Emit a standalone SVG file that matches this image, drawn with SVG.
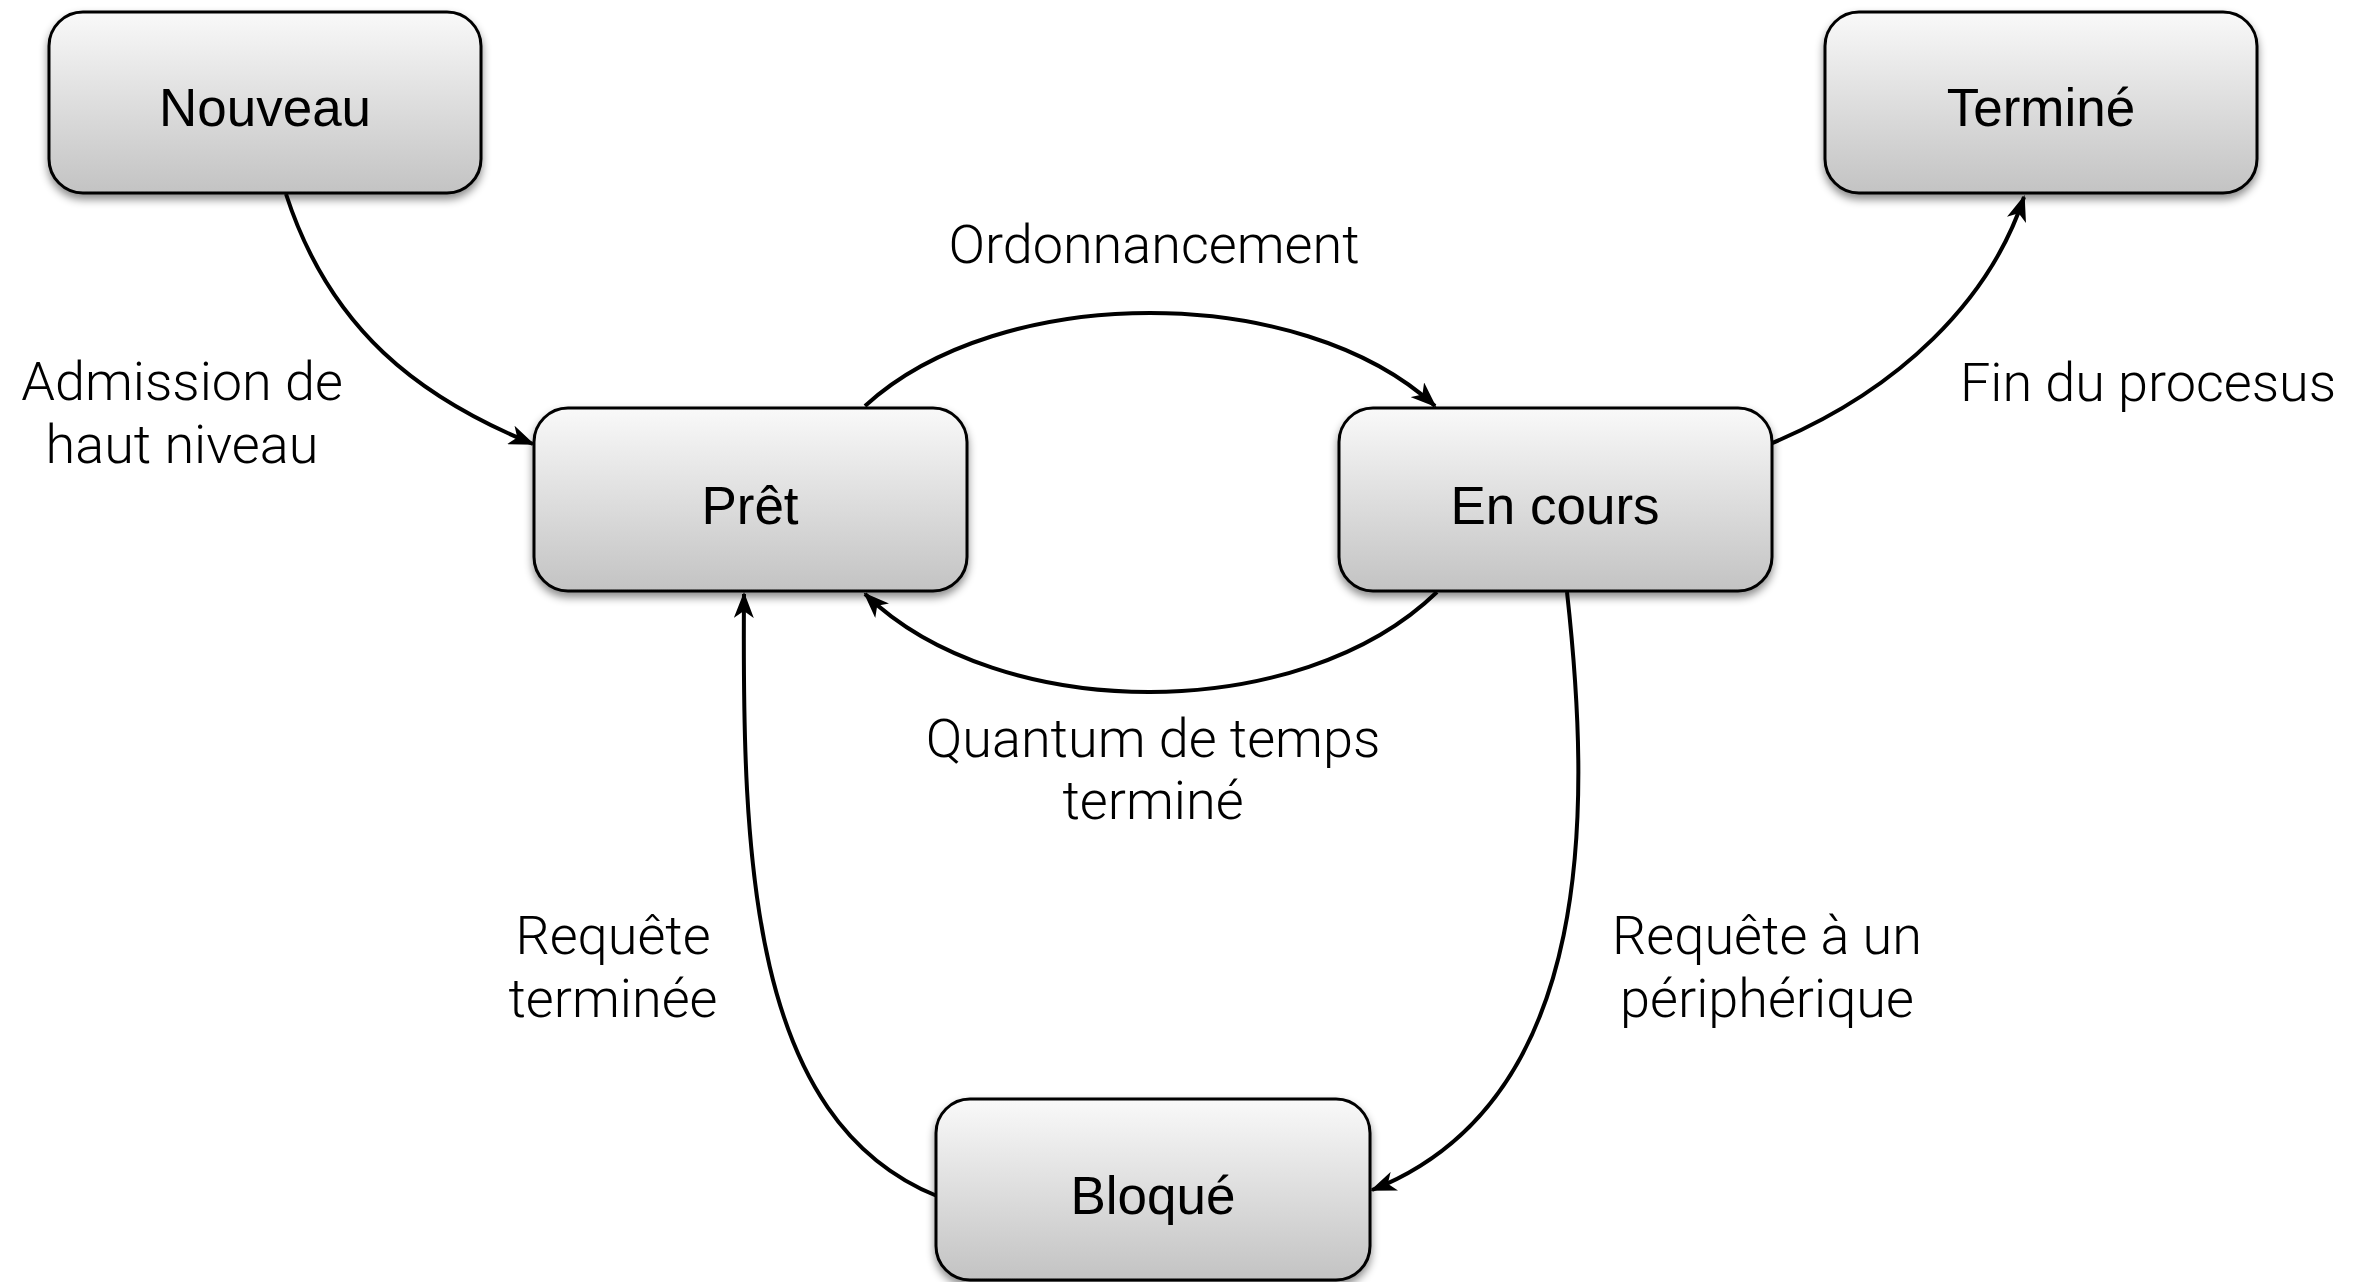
<svg xmlns="http://www.w3.org/2000/svg" width="2374" height="1282" viewBox="0 0 2374 1282">
  <style>
    .box { fill: url(#boxFill); stroke: #000; stroke-width: 3; filter: url(#shadow); }
    .name { font-family: "Liberation Sans", Arial, sans-serif; font-size: 53px; fill: #000; text-anchor: middle; }
    .edge { fill: none; stroke: #000; stroke-width: 4; marker-end: url(#head); }
    .lbl { font-family: Roboto, "Liberation Sans", sans-serif; font-weight: 300; font-size: 54px; fill: #000; text-anchor: middle; }
  </style>
  <defs>
    <linearGradient id="boxFill" x1="0" y1="0" x2="0" y2="1">
      <stop offset="0" stop-color="#f9f9f9"/>
      <stop offset="1" stop-color="#c3c3c3"/>
    </linearGradient>
    <filter id="shadow" x="-10%" y="-10%" width="120%" height="130%">
      <feDropShadow dx="0" dy="5" stdDeviation="4" flood-color="#000" flood-opacity="0.45"/>
    </filter>
    <marker id="head" viewBox="0 0 26 20" refX="24" refY="10" markerWidth="26" markerHeight="20" markerUnits="userSpaceOnUse" orient="auto">
      <path d="M0,0 L26,10 L0,20 L7,10 Z" fill="#000"/>
    </marker>
  </defs>

  <rect width="2374" height="1282" fill="#fff"/>

  <!-- transitions -->
  <g id="connectors">
    <path class="edge" d="M286,194 C330,330 420,398 533,444"/>
    <path class="edge" d="M865,406 C1000,282 1300,282 1435,406"/>
    <path class="edge" d="M1437,592 C1300,725 1000,725 865,594"/>
    <path class="edge" d="M937,1196 C750,1120 742,860 744,594"/>
    <path class="edge" d="M1567,592 C1590,800 1600,1100 1372,1190"/>
    <path class="edge" d="M1770,444 C1900,390 1990,300 2024,197"/>
  </g>

  <!-- transition labels -->
  <g id="labels">
    <text class="lbl" x="1154" y="263">Ordonnancement</text>
    <text class="lbl" x="182" y="400">Admission de</text>
    <text class="lbl" x="182" y="463">haut niveau</text>
    <text class="lbl" x="2148" y="401">Fin du procesus</text>
    <text class="lbl" x="1153" y="757">Quantum de temps</text>
    <text class="lbl" x="1153" y="819">terminé</text>
    <text class="lbl" x="613" y="954">Requête</text>
    <text class="lbl" x="613" y="1017">terminée</text>
    <text class="lbl" x="1767" y="954">Requête à un</text>
    <text class="lbl" x="1767" y="1017">périphérique</text>
  </g>

  <!-- states -->
  <g id="nouveau">
    <rect class="box" x="49" y="12" width="432" height="181" rx="34"/>
    <text class="name" x="265" y="126">Nouveau</text>
  </g>
  <g id="termine">
    <rect class="box" x="1825" y="12" width="432" height="181" rx="34"/>
    <text class="name" x="2041" y="126">Terminé</text>
  </g>
  <g id="pret">
    <rect class="box" x="534" y="408" width="433" height="183" rx="34"/>
    <text class="name" x="750" y="524">Prêt</text>
  </g>
  <g id="en-cours">
    <rect class="box" x="1339" y="408" width="433" height="183" rx="34"/>
    <text class="name" x="1555" y="524">En cours</text>
  </g>
  <g id="bloque">
    <rect class="box" x="936" y="1099" width="434" height="181" rx="34"/>
    <text class="name" x="1153" y="1214">Bloqué</text>
  </g>
</svg>
